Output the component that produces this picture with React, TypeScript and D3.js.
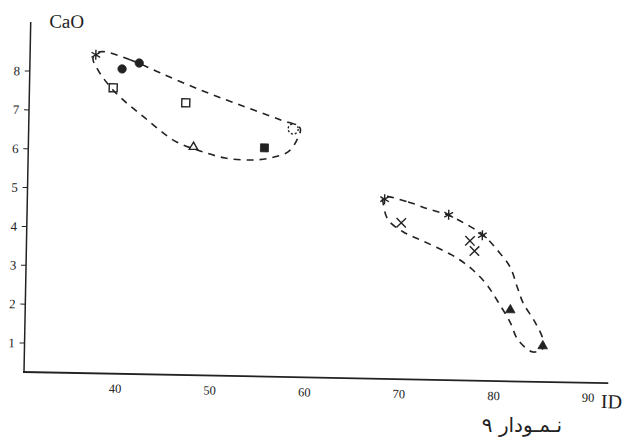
import * as d3 from 'd3';

// values (ID vs CaO)
const X_TICKS = [40, 50, 60, 70, 80, 90];
const Y_TICKS = [1, 2, 3, 4, 5, 6, 7, 8];

const ASTERISKS = [[37.3, 8.45], [68.1, 4.88], [74.9, 4.51], [78.5, 4.0]];
const FILLED_CIRCLES = [[40.1, 8.1], [41.9, 8.26]];
const OPEN_SQUARES = [[39.2, 7.61], [46.9, 7.26]];
const FILLED_SQUARES = [[55.3, 6.14]];
const OPEN_CIRCLES = [[58.3, 6.64]];
const OPEN_TRIANGLES = [[47.8, 6.13]];
const CROSSES = [[69.9, 4.28], [77.2, 3.85], [77.7, 3.59]];
const FILLED_TRIANGLES = [[81.6, 2.09], [85.1, 1.18]];

const HULL_A = [
  [37.74, 8.53], [40.92, 8.34], [44.12, 8.02], [48.38, 7.6], [52.64, 7.23], [56.9, 6.87],
  [59.02, 6.67], [58.72, 6.36], [57.8, 6.05], [55.91, 5.88], [53.8, 5.82], [51.16, 5.86],
  [48.51, 6.03], [45.84, 6.27], [42.62, 6.85], [39.4, 7.5], [37.56, 8.06], [37.01, 8.37],
];
const HULL_B = [
  [67.93, 4.94], [70.58, 4.82], [72.71, 4.65], [74.84, 4.5], [76.87, 4.26], [78.58, 4.01],
  [80.09, 3.63], [81.49, 3.2], [82.28, 2.69], [82.94, 2.28], [84.24, 1.79], [85.13, 1.34],
  [85.14, 1.13], [84.09, 1.02], [82.49, 1.32], [81.6, 1.78], [80.3, 2.29], [79.1, 2.72],
  [77.58, 3.1], [75.87, 3.4], [73.84, 3.65], [71.93, 3.85], [70.11, 4.05], [68.51, 4.35],
  [67.95, 4.78],
];

const CAPTION = 'نـمـودار ۹';

const W = 637;
const H = 445;
const ORIGIN = { x: 24, y: 372 };
const TILT = 1.1; // the scan is slightly rotated
const INK = '#222';
const SERIF = '"Liberation Serif", "Times New Roman", serif';

const x = d3.scaleLinear().domain([40, 90]).range([115.3, 588.5]);
const y = d3.scaleLinear().domain([0, 8]).range([381.9, 71]);

const hullLine = d3.line<number[]>()
  .x((d) => x(d[0]))
  .y((d) => y(d[1]))
  .curve(d3.curveCatmullRomClosed.alpha(0.5));

function Marks({ data, type, size, filled, dash }: any) {
  const path = d3.symbol().type(type).size(size)() as string;
  return (
    <g>
      {data.map((d: number[], i: number) => (
        <path
          key={i}
          d={path}
          transform={`translate(${x(d[0])},${y(d[1])})`}
          fill={filled ? INK : 'none'}
          stroke={INK}
          strokeWidth={filled ? 0.8 : 1.4}
          strokeDasharray={dash}
        />
      ))}
    </g>
  );
}

export default function App() {
  const xEnd = x(92.1);
  const yTop = y(9.26);
  return (
    <svg
      width={W}
      height={H}
      style={{ position: 'absolute', left: 0, top: 0, background: '#fff' }}
    >
      <g transform={`rotate(${TILT} ${ORIGIN.x} ${ORIGIN.y})`}>
        {/* axes */}
        <line x1={ORIGIN.x} y1={ORIGIN.y} x2={ORIGIN.x} y2={yTop} stroke={INK} strokeWidth={1.5} />
        <line x1={ORIGIN.x - 1} y1={ORIGIN.y} x2={xEnd} y2={ORIGIN.y} stroke={INK} strokeWidth={1.8} />

        {Y_TICKS.map((t) => (
          <g key={t}>
            <line x1={ORIGIN.x - 5} x2={ORIGIN.x} y1={y(t)} y2={y(t)} stroke={INK} strokeWidth={1} />
            <text x={ORIGIN.x - 13} y={y(t) + 4.5} textAnchor="middle" fontFamily={SERIF} fontSize={13} fill={INK}>
              {t}
            </text>
          </g>
        ))}
        {X_TICKS.map((t) => (
          <text key={t} x={x(t)} y={ORIGIN.y + 19} textAnchor="middle" fontFamily={SERIF} fontSize={12.5} fill={INK}>
            {t}
          </text>
        ))}

        <text x={60} y={27} textAnchor="middle" fontFamily={SERIF} fontSize={19} fill={INK}>CaO</text>
        <text x={612} y={397} textAnchor="middle" fontFamily={SERIF} fontSize={20} fill={INK}>ID</text>

        {/* field outlines */}
        <path d={hullLine(HULL_A) as string} fill="none" stroke={INK} strokeWidth={1.6} strokeDasharray="7,6" />
        <path d={hullLine(HULL_B) as string} fill="none" stroke={INK} strokeWidth={1.6} strokeDasharray="7,6" />

        {/* samples */}
        <Marks data={ASTERISKS} type={d3.symbolAsterisk} size={70} />
        <Marks data={FILLED_CIRCLES} type={d3.symbolCircle} size={55} filled />
        <Marks data={OPEN_SQUARES} type={d3.symbolSquare} size={64} />
        <Marks data={FILLED_SQUARES} type={d3.symbolSquare} size={64} filled />
        <Marks data={OPEN_CIRCLES} type={d3.symbolCircle} size={80} dash="2,2" />
        <Marks data={OPEN_TRIANGLES} type={d3.symbolTriangle} size={30} />
        <Marks data={CROSSES} type={d3.symbolTimes} size={60} />
        <Marks data={FILLED_TRIANGLES} type={d3.symbolTriangle} size={40} filled />
      </g>

      <text x={522} y={432} textAnchor="middle" fontFamily='"DejaVu Sans", sans-serif' fontSize={20} fill={INK} direction="rtl">
        {CAPTION}
      </text>
    </svg>
  );
}
